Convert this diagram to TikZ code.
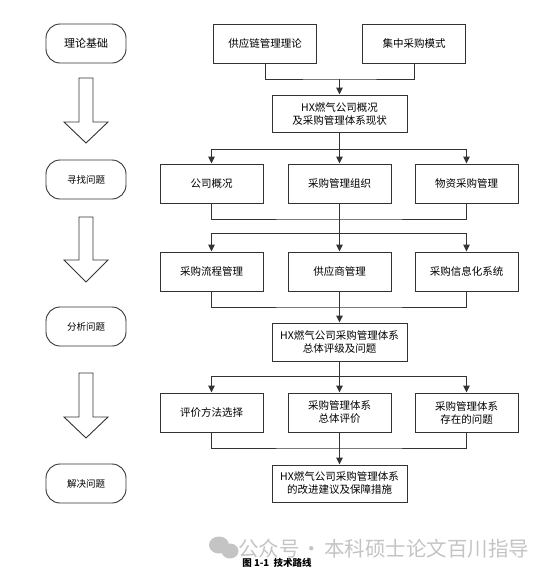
\documentclass[tikz,border=0pt]{standalone}
\usepackage{fontspec}
\setmainfont{Noto Sans CJK SC}
\usepackage{tikz}
\usetikzlibrary{arrows.meta, positioning, calc}
\definecolor{linea}{HTML}{333333}
\definecolor{marca}{HTML}{C4C4C4}

\begin{document}
\begin{tikzpicture}[
  x=1pt, y=-1pt,
  box/.style={
    rectangle, draw=linea, line width=1pt, fill=white,
    font=\fontsize{10.5}{13}\selectfont, align=center,
    minimum width=103pt, minimum height=39pt, inner sep=2pt
  },
  hxbox/.style={box, minimum width=135pt, minimum height=37pt},
  stage/.style={
    rectangle, rounded corners=14pt, draw=linea, line width=0.9pt,
    minimum width=80pt, minimum height=39pt, inner sep=2pt,
    font=\fontsize{9.5}{11}\selectfont
  },
  bigarrow/.style={draw=linea, line width=0.9pt, fill=white},
  lin/.style={linea, line width=1pt},
  arr/.style={lin, -{Triangle[length=7pt, width=6.5pt]}}
]
  \useasboundingbox (0,0) rectangle (554,579);

  % left column
  \node[stage, font=\fontsize{11}{13}\selectfont] (st1) at (86,43.5) {理论基础};
  \node[stage] (st2) at (86,179.5) {寻找问题};
  \node[stage] (st3) at (86,326.5) {分析问题};
  \node[stage] (st4) at (86,483.5) {解决问题};
  \foreach \t/\h/\p in {78/122/143, 217/260/282, 373/417/438}
    \draw[bigarrow] (79,\t) -- (93,\t) -- (93,\h) -- (108,\h) -- (86,\p)
      -- (64,\h) -- (79,\h) -- cycle;

  % right column
  \node[box] (teo1) at (265,43.5) {供应链管理理论};
  \node[box] (teo2) at (414,43.5) {集中采购模式};
  \node[hxbox] (hx1) at (339.5,113.5) {HX燃气公司概况\\及采购管理体系现状};
  \node[box] (a1) at (211.5,183.5) {公司概况};
  \node[box] (a2) at (339.5,183.5) {采购管理组织};
  \node[box] (a3) at (466.5,183.5) {物资采购管理};
  \node[box] (b1) at (211.5,271.5) {采购流程管理};
  \node[box] (b2) at (339.5,271.5) {供应商管理};
  \node[box] (b3) at (466.5,271.5) {采购信息化系统};
  \node[hxbox, minimum height=38pt] (hx2) at (339.5,342) {HX燃气公司采购管理体系\\总体评级及问题};
  \node[box] (c1) at (211.5,412.5) {评价方法选择};
  \node[box] (c2) at (339.5,412.5) {采购管理体系\\总体评价};
  \node[box] (c3) at (466.5,412.5) {采购管理体系\\存在的问题};
  \node[hxbox] (hx3) at (339.5,483.5) {HX燃气公司采购管理体系\\的改进建议及保障措施};

  \coordinate (m1) at (339.5,79);
  \coordinate (s1) at (339.5,149);
  \coordinate (m2) at (339.5,219);
  \coordinate (s2) at (339.5,233);
  \coordinate (m3) at (339.5,307);
  \coordinate (s3) at (339.5,376);
  \coordinate (m4) at (339.5,448);

  \draw[lin] (teo1) |- (m1) -| (teo2);
  \draw[arr] (m1) -- (hx1);
  \draw[lin] (hx1) -- (s1);
  \draw[arr] (s1) -| (a1);
  \draw[arr] (s1) -- (a2);
  \draw[arr] (s1) -| (a3);
  \draw[lin] (a1) |- (m2) -| (a3);
  \draw[lin] (a2) -- (s2);
  \draw[arr] (s2) -| (b1);
  \draw[arr] (s2) -- (b2);
  \draw[arr] (s2) -| (b3);
  \draw[lin] (b1) |- (m3) -| (b3);
  \draw[lin] (b2) -- (m3);
  \draw[arr] (m3) -- (hx2);
  \draw[lin] (hx2) -- (s3);
  \draw[arr] (s3) -| (c1);
  \draw[arr] (s3) -- (c2);
  \draw[arr] (s3) -| (c3);
  \draw[lin] (c1) |- (m4) -| (c3);
  \draw[lin] (c2) -- (m4);
  \draw[arr] (m4) -- (hx3);

  % caption and mark
  \fill[marca] (219,545) ellipse (10 and 8.5);
  \fill[marca] (230,551) ellipse (8.5 and 7.5);
  \node[text=marca, font=\fontsize{20.5}{22}\selectfont, anchor=west, inner sep=0pt] (marc) at (238,549)
    {公众号\hspace{2pt}·\hspace{2pt}本科硕士论文百川指导};
  \node[font=\fontsize{9.5}{10}\selectfont\bfseries] (cap) at (277,563) {图 1-1\ \ 技术路线};
\end{tikzpicture}
\end{document}
